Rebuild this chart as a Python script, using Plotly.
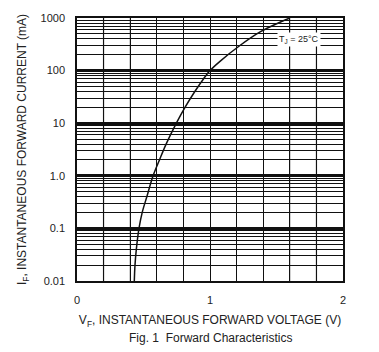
import plotly.graph_objects as go

# Forward characteristic
vf_volts = [0.431, 0.436, 0.446, 0.466, 0.490, 0.525, 0.572, 0.620, 0.670, 0.747,
            0.812, 0.886, 0.952, 1.000, 1.075, 1.225, 1.380, 1.530, 1.600]
if_ma = [0.01, 0.02, 0.04, 0.1, 0.2, 0.4, 1.0, 2.0, 4.0, 10,
         20, 40, 70, 100, 150, 300, 550, 840, 1000]

y_tick_vals = [0.01, 0.1, 1, 10, 100, 1000]
y_tick_text = ["0.01", "0.1", "1.0", "10", "100", "1000"]
x_tick_vals = [0, 1, 2]
x_tick_text = ["0", "1", "2"]
gray_grid_volts = [0.2, 0.4, 1.6, 1.8]

FONT = "Liberation Sans, Arial, sans-serif"

fig = go.Figure()
fig.add_trace(go.Scatter(x=vf_volts, y=if_ma, mode="lines",
                         line=dict(color="#111", width=1.5, shape="spline", smoothing=1.0),
                         showlegend=False, hoverinfo="skip"))

for v in gray_grid_volts:
    fig.add_shape(type="line", xref="x", yref="paper", x0=v, x1=v, y0=0, y1=1,
                  line=dict(color="#aaaaaa", width=1.5), layer="below")

fig.add_annotation(x=1.67, y=2.6, xref="x", yref="y",
                   text="T<sub>J</sub> = 25°C", showarrow=False,
                   font=dict(family=FONT, size=9, color="#222"),
                   bgcolor="white", borderpad=1)

fig.add_annotation(x=0.5, y=-0.215, xref="paper", yref="paper",
                   text="Fig. 1  Forward Characteristics", showarrow=False,
                   font=dict(family=FONT, size=12, color="#222"),
                   xanchor="center", yanchor="middle")

fig.update_layout(
    width=379, height=352,
    margin=dict(l=77, r=36, t=16, b=71),
    paper_bgcolor="white", plot_bgcolor="white",
    font=dict(family=FONT, size=11, color="#222"),
    xaxis=dict(range=[0, 2], tickvals=x_tick_vals, ticktext=x_tick_text,
               showgrid=True, gridcolor="#111", gridwidth=1,
               ticks="outside", ticklen=8, tickcolor="rgba(0,0,0,0)",
               showline=True, linecolor="#111", linewidth=1.5, mirror=True,
               zeroline=False,
               title=dict(text="V<sub>F</sub>, INSTANTANEOUS FORWARD VOLTAGE (V)",
                          font=dict(size=12), standoff=11),
               minor=dict(dtick=0.2, showgrid=True, gridcolor="#111", gridwidth=1)),
    yaxis=dict(type="log", range=[-2, 3], tickvals=y_tick_vals, ticktext=y_tick_text,
               showgrid=True, gridcolor="#111", gridwidth=2.5,
               ticks="outside", ticklen=8, tickcolor="rgba(0,0,0,0)",
               showline=True, linecolor="#111", linewidth=1.5, mirror=True,
               zeroline=False,
               title=dict(text="I<sub>F</sub>, INSTANTANEOUS FORWARD CURRENT (mA)",
                          font=dict(size=12), standoff=11),
               minor=dict(dtick="D1", showgrid=True, gridcolor="#111", gridwidth=1)),
)

fig.write_html("out.html")
